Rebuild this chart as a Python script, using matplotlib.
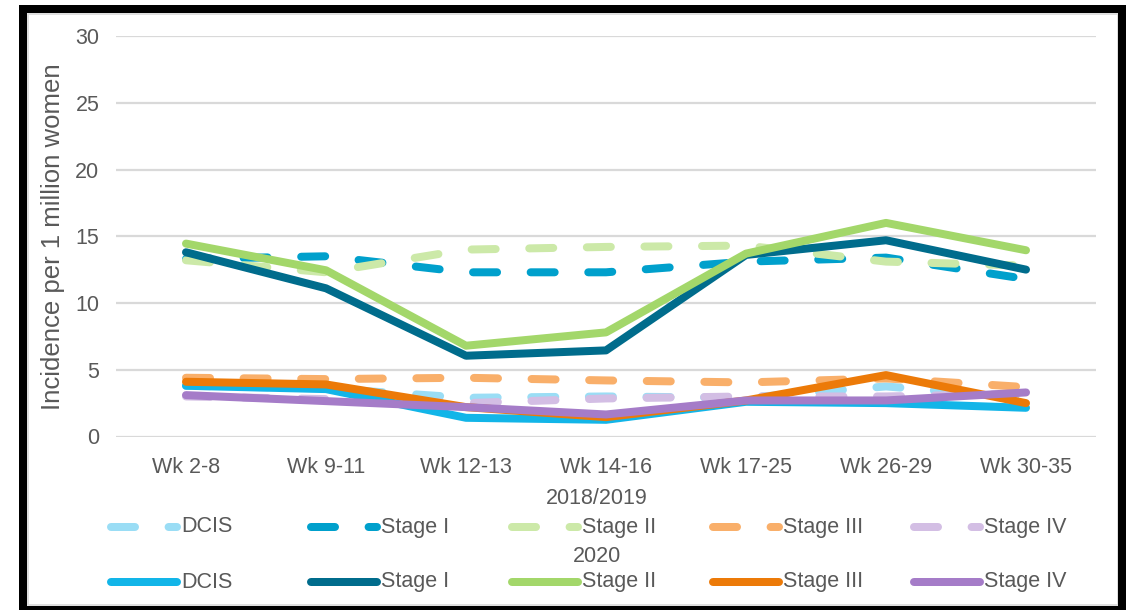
import matplotlib
matplotlib.use("Agg")
import matplotlib.pyplot as plt
from matplotlib.lines import Line2D
from matplotlib.patches import Rectangle

# Weekly periods
weeks = ["Wk 2-8", "Wk 9-11", "Wk 12-13", "Wk 14-16", "Wk 17-25", "Wk 26-29", "Wk 30-35"]
stages = ["DCIS", "Stage I", "Stage II", "Stage III", "Stage IV"]

# Incidence per 1 million women, 2018/2019 average
dcis_1819 = [3.8, 3.6, 2.9, 3.0, 2.9, 3.75, 2.9]
stage1_1819 = [13.3, 13.5, 12.3, 12.3, 13.1, 13.4, 11.8]
stage2_1819 = [13.2, 12.3, 14.0, 14.2, 14.3, 13.1, 12.8]
stage3_1819 = [4.4, 4.3, 4.4, 4.2, 4.05, 4.35, 3.7]
stage4_1819 = [3.0, 2.8, 2.5, 2.85, 3.0, 3.0, 3.2]

# Incidence per 1 million women, 2020
dcis_2020 = [3.8, 3.55, 1.4, 1.25, 2.6, 2.5, 2.15]
stage1_2020 = [13.8, 11.1, 6.05, 6.45, 13.6, 14.7, 12.5]
stage2_2020 = [14.45, 12.45, 6.8, 7.8, 13.7, 16.0, 13.95]
stage3_2020 = [4.1, 3.9, 2.2, 1.45, 2.7, 4.6, 2.5]
stage4_2020 = [3.1, 2.65, 2.2, 1.65, 2.7, 2.7, 3.3]

series_1819 = [dcis_1819, stage1_1819, stage2_1819, stage3_1819, stage4_1819]
series_2020 = [dcis_2020, stage1_2020, stage2_2020, stage3_2020, stage4_2020]

colors_1819 = ["#9ADDF5", "#00A0CC", "#CCE9A8", "#F9AF6A", "#D3BEE4"]
colors_2020 = ["#12B5E8", "#006C8C", "#A3D76A", "#EC7A08", "#A57CC8"]

W, H = 1128, 610
DPI = 100
TEXT = "#595959"
FONT = "Liberation Sans"
LW = 8 * 72 / DPI
DASH = (3.0, 4.2)

plt.rcParams["font.family"] = [FONT, "DejaVu Sans"]

fig = plt.figure(figsize=(W / DPI, H / DPI), dpi=DPI)
fig.patch.set_facecolor("white")


def fx(px):
    return px / W


def fy(py):
    return 1 - py / H


ax = fig.add_axes([fx(116), fy(436.5), fx(1096) - fx(116), fy(36) - fy(436.5)])
x = list(range(len(weeks)))

for vals, col in zip(series_1819, colors_1819):
    ax.plot(x, vals, color=col, lw=LW, dashes=DASH, dash_capstyle="round",
            solid_joinstyle="round", dash_joinstyle="round")
for vals, col in zip(series_2020, colors_2020):
    ax.plot(x, vals, color=col, lw=LW, solid_capstyle="round",
            solid_joinstyle="round")

ax.set_xlim(-0.5, len(weeks) - 0.5)
ax.set_ylim(0, 30)
ax.set_yticks(range(0, 31, 5))
ax.set_xticks(x)
ax.set_xticklabels(weeks)
ax.grid(axis="y", color="#D9D9D9", lw=1.6)
ax.set_axisbelow(True)
for s in ax.spines.values():
    s.set_visible(False)
ax.tick_params(length=0, labelsize=15.5, colors=TEXT, pad=12)
ax.tick_params(axis="x", pad=15)
ax.set_ylabel("Incidence per 1 million women", fontsize=18.5, color=TEXT, labelpad=7)

# Two-row legend, one row per period
col_x = [107, 307, 508, 709, 910]
handle_len = 70
rows = [("2018/2019", 498, 527, colors_1819, True),
        ("2020", 557, 582, colors_2020, False)]
for title, ty, ry, cols, dashed in rows:
    fig.text(fx(597), fy(ty), title, ha="center", va="center",
             fontsize=15.5, color=TEXT)
    for cx, name, col in zip(col_x, stages, cols):
        kw = dict(color=col, lw=LW, transform=fig.transFigure)
        if dashed:
            kw.update(dashes=DASH, dash_capstyle="round")
        else:
            kw.update(solid_capstyle="round")
        fig.add_artist(Line2D([fx(cx + 4), fx(cx + handle_len)], [fy(ry), fy(ry)], **kw))
        fig.text(fx(cx + handle_len + 4), fy(ry), name, ha="left", va="center",
                 fontsize=15.5, color=TEXT)

# Chart frame
fig.add_artist(Rectangle((fx(27.5), fy(605)), fx(1117.5) - fx(27.5), fy(14) - fy(605),
                         transform=fig.transFigure, fill=False, ec="#D9D9D9", lw=1.2))
fig.add_artist(Rectangle((fx(22.5), fy(609.5)), fx(1122) - fx(22.5), fy(9) - fy(609.5),
                         transform=fig.transFigure, fill=False, ec="black",
                         lw=8 * 72 / DPI, joinstyle="miter"))

fig.savefig("out.png", dpi=DPI)
